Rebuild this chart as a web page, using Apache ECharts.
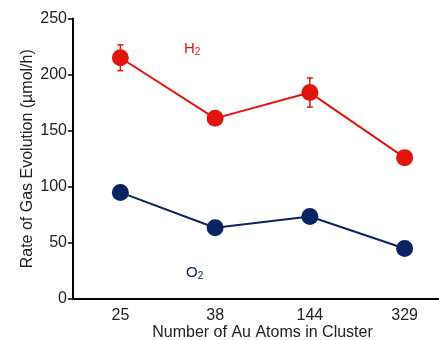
<!DOCTYPE html>
<html>
<head>
<meta charset="utf-8">
<script src="https://cdn.jsdelivr.net/npm/echarts@6/dist/echarts.min.js"></script>
<style>
    html, body { margin: 0; padding: 0; background: #fff; }
    #chart { width: 439px; height: 340px; }
</style>
</head>
<body>
<div id="chart"></div>
<script>
"use strict"

// 数据
let clusters = ["25", "38", "144", "329"];
let h2Data = [215, 161, 184, 126];
let h2Err = [11.5, 0, 13, 0];
let o2Data = [95, 63.5, 73.5, 45];
let yTicks = [0, 50, 100, 150, 200, 250];

let red = "#e2150d";
let navy = "#0a2463";

var myChart = echarts.init(document.getElementById("chart"));

// 误差线
function errorBars(color) {
    return function (params, api) {
        let x = api.value(0);
        let lo = api.coord([x, api.value(1)]);
        let hi = api.coord([x, api.value(2)]);
        let w = 3;
        return {
            type: "group",
            children: [
                { type: "line", shape: { x1: lo[0], y1: lo[1], x2: hi[0], y2: hi[1] }, style: { stroke: color, lineWidth: 1.5 } },
                { type: "line", shape: { x1: lo[0] - w, y1: lo[1], x2: lo[0] + w, y2: lo[1] }, style: { stroke: color, lineWidth: 1.5 } },
                { type: "line", shape: { x1: hi[0] - w, y1: hi[1], x2: hi[0] + w, y2: hi[1] }, style: { stroke: color, lineWidth: 1.5 } }
            ]
        };
    };
}

let h2ErrData = clusters.map((c, i) => [i, h2Data[i] - h2Err[i], h2Data[i] + h2Err[i]]).filter((d, i) => h2Err[i] > 0);

var option = {
    animation: false,
    textStyle: { fontFamily: "Liberation Sans, Arial, sans-serif" },
    grid: { left: 73, right: -13, top: 18.5, bottom: 41, outerBoundsMode: "none", containLabel: false },
    xAxis: {
        type: "category",
        data: clusters,
        boundaryGap: true,
        name: "Number of Au Atoms in Cluster",
        nameLocation: "middle",
        nameGap: 26,
        nameMoveOverlap: false,
        nameTextStyle: { color: "#222", fontSize: 16 },
        axisLine: { lineStyle: { color: "#000", width: 2 } },
        axisTick: { alignWithLabel: true, length: 5, lineStyle: { color: "#000", width: 1.5 } },
        axisLabel: { color: "#222", fontSize: 16, margin: 9 },
        splitLine: { show: false }
    },
    yAxis: {
        type: "value",
        min: 0,
        max: 250,
        interval: 50,
        name: "Rate of Gas Evolution (µmol/h)",
        nameLocation: "middle",
        nameGap: 37,
        nameMoveOverlap: false,
        nameTextStyle: { color: "#222", fontSize: 16 },
        axisLine: { show: true, lineStyle: { color: "#000", width: 2 } },
        axisTick: { show: true, length: 5, lineStyle: { color: "#000", width: 1.5 } },
        axisLabel: {
            color: "#222", fontSize: 16, margin: 6,
            formatter: v => yTicks.indexOf(v) >= 0 ? String(v) : ""
        },
        splitLine: { show: false }
    },
    graphic: [
        {
            type: "text", left: 184, top: 41,
            style: {
                text: "{a|H}{b|2}",
                rich: {
                    a: { fill: red, fontSize: 15, fontFamily: "Liberation Sans" },
                    b: { fill: red, fontSize: 10, fontFamily: "Liberation Sans", padding: [8, 0, 0, 0] }
                }
            }
        },
        {
            type: "text", left: 186, top: 265,
            style: {
                text: "{a|O}{b|2}",
                rich: {
                    a: { fill: navy, fontSize: 15, fontFamily: "Liberation Sans" },
                    b: { fill: navy, fontSize: 10, fontFamily: "Liberation Sans", padding: [8, 0, 0, 0] }
                }
            }
        }
    ],
    series: [
        {
            name: "H2",
            type: "line",
            data: h2Data,
            symbol: "circle",
            symbolSize: 17,
            itemStyle: { color: red },
            lineStyle: { color: red, width: 2 },
            z: 3
        },
        {
            name: "H2 err",
            type: "custom",
            data: h2ErrData,
            renderItem: errorBars(red),
            z: 4
        },
        {
            name: "O2",
            type: "line",
            data: o2Data,
            symbol: "circle",
            symbolSize: 17,
            itemStyle: { color: navy },
            lineStyle: { color: navy, width: 2 },
            z: 3
        }
    ]
};
myChart.setOption(option);
</script>
</body>
</html>
